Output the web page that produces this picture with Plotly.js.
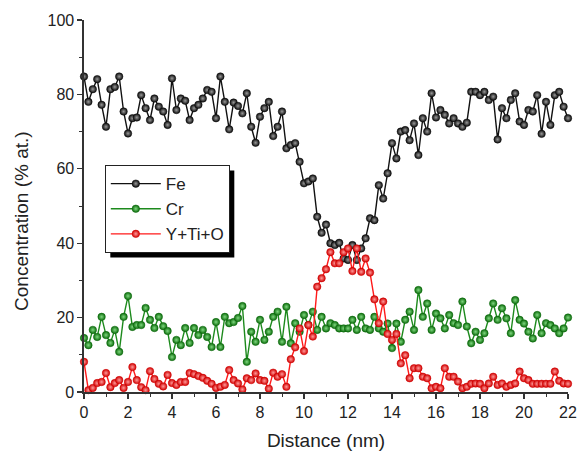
<!DOCTYPE html>
<html>
<head>
<meta charset="utf-8">
<script src="https://cdn.plot.ly/plotly-3.0.1.min.js"></script>
<style>html,body{margin:0;padding:0;background:#fff;}#chart{width:577px;height:457px;}</style>
</head>
<body>
<div id="chart"></div>
<script>
// Distance along the profile (nm)
const distance = [0,0.2,0.4,0.6,0.8,1,1.2,1.4,1.6,1.8,2,2.2,2.4,2.6,2.8,3,3.2,3.4,3.6,3.8,4,4.2,4.4,4.6,4.8,5,5.2,5.4,5.6,5.8,6,6.2,6.4,6.6,6.8,7,7.2,7.4,7.6,7.8,8,8.2,8.4,8.6,8.8,9,9.2,9.4,9.6,9.8,10,10.2,10.4,10.6,10.8,11,11.2,11.4,11.6,11.8,12,12.2,12.4,12.6,12.8,13,13.2,13.4,13.6,13.8,14,14.2,14.4,14.6,14.8,15,15.2,15.4,15.6,15.8,16,16.2,16.4,16.6,16.8,17,17.2,17.4,17.6,17.8,18,18.2,18.4,18.6,18.8,19,19.2,19.4,19.6,19.8,20,20.2,20.4,20.6,20.8,21,21.2,21.4,21.6,21.8,22];

const fe = [84.8,78.0,81.4,84.1,77.2,71.3,81.4,82.0,84.8,75.4,69.5,73.6,73.8,79.8,76.3,73.1,78.9,76.7,75.4,71.8,84.3,75.8,78.9,78.3,73.1,76.3,77.2,78.9,81.2,80.7,73.6,84.8,78.0,70.6,77.8,76.9,74.9,80.3,71.3,67.0,74.0,76.3,78.0,68.8,71.3,75.4,65.5,66.4,66.9,61.9,56.1,56.6,57.4,47.1,42.8,45.0,40.0,39.5,40.1,35.9,35.5,39.5,35.5,38.6,41.3,46.7,46.2,55.6,52.0,58.8,66.9,62.8,70.0,70.4,67.7,72.2,63.7,73.6,70.0,80.3,73.8,75.8,74.5,72.2,73.6,72.2,71.3,72.4,80.7,80.7,79.8,80.7,78.5,79.4,67.9,76.3,73.6,78.5,80.3,72.7,71.8,75.8,75.4,79.8,69.4,78.0,71.8,79.8,80.7,76.7,73.6];

const cr = [14.5,12.6,16.7,14.8,20.2,15.3,13.2,16.7,10.8,20.2,25.8,17.5,18.0,18.0,22.6,19.4,17.2,20.2,17.7,16.4,9.4,14.0,12.6,17.2,13.2,17.2,15.3,16.7,14.8,12.1,18.8,12.1,20.2,18.5,18.8,19.9,23.1,8.1,16.2,13.5,19.4,14.0,16.2,20.2,21.6,13.5,22.9,13.1,18.5,16.2,20.7,18.0,21.6,16.7,20.2,17.1,18.5,18.0,17.1,17.1,17.1,19.4,16.7,20.2,17.1,16.7,20.2,17.1,16.2,18.4,11.8,18.4,13.5,19.4,21.6,16.7,27.4,20.2,23.8,16.7,21.1,19.8,17.1,20.7,18.5,18.0,24.3,17.6,13.1,16.2,14.0,15.8,19.8,23.8,19.4,22.5,19.8,15.8,24.7,19.4,18.4,16.2,14.4,20.7,15.8,18.5,18.0,17.1,15.8,17.1,20.0];

const ytio = [8.1,0.5,1.1,2.4,2.7,5.1,1.3,2.4,3.2,1.1,2.7,6.7,3.2,1.3,0.5,5.6,3.5,2.2,1.5,4.6,2.4,1.9,2.7,2.7,5.1,4.8,4.3,3.8,3.0,2.2,1.1,1.4,1.9,5.9,3.2,2.3,0.7,3.7,3.2,5.0,3.2,3.0,0.9,5.2,4.1,4.8,1.4,8.8,12.0,17.1,11.0,18.0,14.9,28.3,30.6,33.0,37.6,34.6,34.6,37.6,38.6,32.5,38.6,32.3,35.9,32.1,24.9,18.5,24.3,15.6,14.0,15.6,7.7,9.9,3.7,6.4,6.4,4.1,3.7,1.0,1.4,1.0,6.4,4.1,4.1,2.8,1.0,1.4,2.2,2.3,2.2,1.0,2.3,4.1,1.9,2.3,1.4,1.9,2.3,5.5,3.7,3.2,2.2,2.2,2.2,2.2,2.2,5.5,3.0,2.3,2.2];

const seriesNames = ['Fe', 'Cr', 'Y+Ti+O'];
const xTickVals = [0,2,4,6,8,10,12,14,16,18,20,22];
const yTickVals = [0,20,40,60,80,100];
const xTitle = 'Distance (nm)';
const yTitle = 'Concentration (% at.)';

function mk(name, y, edge, center, lineColor) {
  return {
    type: 'scatter', mode: 'lines+markers', name: name,
    x: distance, y: y, cliponaxis: false,
    line: {color: lineColor, width: 1.4},
    marker: {symbol: 'circle', size: 7.5, color: edge,
             gradient: {type: 'radial', color: center},
             line: {color: edge, width: 0.5}}
  };
}

const traces = [
  mk(seriesNames[0], fe, '#0a0a0a', '#9a9a9a', '#111111'),
  mk(seriesNames[1], cr, '#0b6a0b', '#7fd87f', '#1d8a1d'),
  mk(seriesNames[2], ytio, '#d00000', '#ff9a9a', '#ff1a1a')
];

const axCol = '#333333';
const font = {family: 'Liberation Sans, Arial, sans-serif', color: '#222222'};

const layout = {
  width: 577, height: 457,
  margin: {l: 84, r: 9, t: 20, b: 65},
  paper_bgcolor: '#ffffff', plot_bgcolor: '#ffffff',
  font: font,
  showlegend: true,
  legend: {
    x: 0.043, y: 0.61, xanchor: 'left', yanchor: 'top',
    bgcolor: '#ffffff', bordercolor: '#222222', borderwidth: 1,
    font: {family: font.family, size: 17, color: '#222222'},
    itemwidth: 50, tracegroupgap: 0,
    entrywidth: 135, entrywidthmode: 'pixels'
  },
  annotations: [{
    text: yTitle, textangle: -90, showarrow: false,
    xref: 'paper', yref: 'paper', x: -0.128, y: 0.46,
    xanchor: 'center', yanchor: 'middle',
    font: {family: font.family, size: 19, color: '#222222'}
  }],
  xaxis: {
    range: [0, 22], tickvals: xTickVals, ticks: 'outside', ticklen: 5, tickwidth: 1.2, tickcolor: axCol,
    minor: {dtick: 1, tick0: 0, ticks: 'outside', ticklen: 3, tickcolor: axCol, tickwidth: 1},
    showline: true, linecolor: axCol, linewidth: 1.6, showgrid: false, zeroline: false,
    tickfont: {size: 16, color: '#222222'},
    title: {text: xTitle, font: {size: 19, color: '#222222'}, standoff: 14}
  },
  yaxis: {
    range: [0, 100], tickvals: yTickVals, ticks: 'outside', ticklen: 5, tickwidth: 1.2, tickcolor: axCol,
    minor: {dtick: 10, tick0: 0, ticks: 'outside', ticklen: 3, tickcolor: axCol, tickwidth: 1},
    showline: true, linecolor: axCol, linewidth: 1.6, showgrid: false, zeroline: false,
    tickfont: {size: 16, color: '#222222'}
  },
  xaxis2: {
    overlaying: 'x', side: 'top', anchor: 'y', range: [0, 22], tickvals: xTickVals,
    ticks: 'inside', ticklen: 5, tickwidth: 1.2, tickcolor: axCol,
    minor: {dtick: 1, tick0: 0, ticks: 'inside', ticklen: 3, tickcolor: axCol},
    showticklabels: false, showline: true, linecolor: axCol, linewidth: 1.6, showgrid: false, zeroline: false
  },
  yaxis2: {
    overlaying: 'y', side: 'right', anchor: 'x', range: [0, 100], tickvals: yTickVals,
    ticks: 'inside', ticklen: 5, tickwidth: 1.2, tickcolor: axCol,
    minor: {dtick: 10, tick0: 0, ticks: 'inside', ticklen: 3, tickcolor: axCol},
    showticklabels: false, showline: true, linecolor: axCol, linewidth: 1.6, showgrid: false, zeroline: false
  }
};

const gd = document.getElementById('chart');
Plotly.newPlot(gd, traces, layout, {displayModeBar: false, staticPlot: true}).then(function () {
  // Drop shadow behind the legend box, placed from the rendered legend size
  const bg = gd.querySelector('.legend .bg');
  if (!bg) return;
  const r = bg.getBoundingClientRect();
  const g = gd.getBoundingClientRect();
  const s = gd._fullLayout._size;
  const off = 5;
  const px2x = function (px) { return (px - g.left - s.l) / s.w; };
  const px2y = function (py) { return 1 - (py - g.top - s.t) / s.h; };
  Plotly.relayout(gd, {shapes: [{
    type: 'rect', xref: 'paper', yref: 'paper', layer: 'above',
    x0: px2x(r.left + off), x1: px2x(r.right + off),
    y0: px2y(r.bottom + off), y1: px2y(r.top + off),
    fillcolor: '#000000', line: {width: 0}
  }]});
});
</script>
</body>
</html>
